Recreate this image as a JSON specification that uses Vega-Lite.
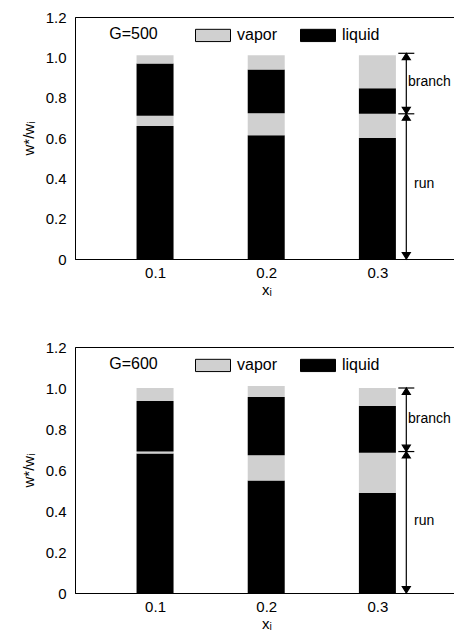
{
  "$schema": "https://vega.github.io/schema/vega-lite/v6.json",
  "padding": {"left": 20, "top": 9, "right": 0, "bottom": 0},
  "background": "white",
  "bounds": "flush",
  "spacing": 88,
  "datasets": {
    "bars": [
      {"G": 500, "x": 0.1, "phase": "liquid", "lo": 0, "hi": 0.66},
      {"G": 500, "x": 0.1, "phase": "vapor", "lo": 0.66, "hi": 0.71},
      {"G": 500, "x": 0.1, "phase": "liquid", "lo": 0.71, "hi": 0.97},
      {"G": 500, "x": 0.1, "phase": "vapor", "lo": 0.97, "hi": 1.01},
      {"G": 500, "x": 0.2, "phase": "liquid", "lo": 0, "hi": 0.614},
      {"G": 500, "x": 0.2, "phase": "vapor", "lo": 0.614, "hi": 0.723},
      {"G": 500, "x": 0.2, "phase": "liquid", "lo": 0.723, "hi": 0.94},
      {"G": 500, "x": 0.2, "phase": "vapor", "lo": 0.94, "hi": 1.01},
      {"G": 500, "x": 0.3, "phase": "liquid", "lo": 0, "hi": 0.6},
      {"G": 500, "x": 0.3, "phase": "vapor", "lo": 0.6, "hi": 0.72},
      {"G": 500, "x": 0.3, "phase": "liquid", "lo": 0.72, "hi": 0.847},
      {"G": 500, "x": 0.3, "phase": "vapor", "lo": 0.847, "hi": 1.01},
      {"G": 600, "x": 0.1, "phase": "liquid", "lo": 0, "hi": 0.68},
      {"G": 600, "x": 0.1, "phase": "vapor", "lo": 0.68, "hi": 0.69},
      {"G": 600, "x": 0.1, "phase": "liquid", "lo": 0.69, "hi": 0.936},
      {"G": 600, "x": 0.1, "phase": "vapor", "lo": 0.936, "hi": 1.0},
      {"G": 600, "x": 0.2, "phase": "liquid", "lo": 0, "hi": 0.549},
      {"G": 600, "x": 0.2, "phase": "vapor", "lo": 0.549, "hi": 0.672},
      {"G": 600, "x": 0.2, "phase": "liquid", "lo": 0.672, "hi": 0.956},
      {"G": 600, "x": 0.2, "phase": "vapor", "lo": 0.956, "hi": 1.01},
      {"G": 600, "x": 0.3, "phase": "liquid", "lo": 0, "hi": 0.488},
      {"G": 600, "x": 0.3, "phase": "vapor", "lo": 0.488, "hi": 0.684},
      {"G": 600, "x": 0.3, "phase": "liquid", "lo": 0.684, "hi": 0.912},
      {"G": 600, "x": 0.3, "phase": "vapor", "lo": 0.912, "hi": 1.0}
    ],
    "spans": [
      {"G": 500, "x": 0.326, "lo": 0, "hi": 0.72},
      {"G": 500, "x": 0.326, "lo": 0.72, "hi": 1.02},
      {"G": 600, "x": 0.326, "lo": 0, "hi": 0.69},
      {"G": 600, "x": 0.326, "lo": 0.69, "hi": 1.0}
    ],
    "heads": [
      {"G": 500, "x": 0.326, "y": 1.02, "kind": "cap"},
      {"G": 500, "x": 0.326, "y": 1.02, "kind": "up"},
      {"G": 500, "x": 0.326, "y": 0.72, "kind": "cap"},
      {"G": 500, "x": 0.326, "y": 0.72, "kind": "down"},
      {"G": 500, "x": 0.326, "y": 0.72, "kind": "up"},
      {"G": 500, "x": 0.326, "y": 0, "kind": "down"},
      {"G": 600, "x": 0.326, "y": 1.0, "kind": "cap"},
      {"G": 600, "x": 0.326, "y": 1.0, "kind": "up"},
      {"G": 600, "x": 0.326, "y": 0.69, "kind": "cap"},
      {"G": 600, "x": 0.326, "y": 0.69, "kind": "down"},
      {"G": 600, "x": 0.326, "y": 0.69, "kind": "up"},
      {"G": 600, "x": 0.326, "y": 0, "kind": "down"}
    ],
    "notes": [
      {"G": 500, "x": 0.3275, "y": 0.88, "text": "branch"},
      {"G": 500, "x": 0.333, "y": 0.37, "text": "run"},
      {"G": 600, "x": 0.3275, "y": 0.847, "text": "branch"},
      {"G": 600, "x": 0.333, "y": 0.35, "text": "run"}
    ],
    "titles": [
      {"G": 500, "x": 0.0588, "y": 1.115, "text": "G=500"},
      {"G": 600, "x": 0.0588, "y": 1.115, "text": "G=600"}
    ]
  },
  "vconcat": [
    {
      "width": 383,
      "height": 242,
      "layer": [
        {
          "data": {"name": "bars"},
          "transform": [{"filter": "datum.G == 500"}],
          "mark": {"type": "bar", "size": 37, "orient": "vertical"},
          "encoding": {
            "x": {"field": "x", "type": "quantitative", "scale": {"domain": [0.0325, 0.368], "nice": false, "zero": false},
                  "axis": {"values": [0.1, 0.2, 0.3], "format": ".1f", "title": "xᵢ"}},
            "y": {"field": "lo", "type": "quantitative", "scale": {"domain": [0, 1.2], "nice": false},
                  "axis": {"values": [0, 0.2, 0.4, 0.6, 0.8, 1.0, 1.2], "labelExpr": "datum.value == 0 ? '0' : format(datum.value, '.1f')", "title": "w*/wᵢ"}},
            "y2": {"field": "hi"},
            "color": {"field": "phase", "type": "nominal", "scale": {"domain": ["vapor", "liquid"], "range": ["#d0d0d0", "#000000"]},
                      "legend": {"orient": "none", "legendX": 120, "legendY": 0, "direction": "horizontal", "title": null,
                                 "encode": {"symbols": {"update": {"stroke": {"value": "black"}, "strokeWidth": {"value": 1}}}}}}
          }
        },
        {
          "data": {"name": "spans"},
          "transform": [{"filter": "datum.G == 500"}],
          "mark": {"type": "rule", "color": "black", "strokeWidth": 1.2},
          "encoding": {"x": {"field": "x", "type": "quantitative"}, "y": {"field": "lo", "type": "quantitative"}, "y2": {"field": "hi"}}
        },
        {
          "data": {"name": "heads"},
          "transform": [{"filter": "datum.G == 500"}],
          "mark": {"type": "point", "filled": true, "fill": "black", "stroke": "black", "strokeWidth": 1.2, "opacity": 1, "size": 64},
          "encoding": {
            "x": {"field": "x", "type": "quantitative"},
            "y": {"field": "y", "type": "quantitative"},
            "shape": {"field": "kind", "type": "nominal", "legend": null,
                      "scale": {"domain": ["cap", "up", "down"], "range": ["M-2,0H2", "M0,0L-1,1.6L1,1.6Z", "M0,0L-1,-1.6L1,-1.6Z"]}}
          }
        },
        {
          "data": {"name": "notes"},
          "transform": [{"filter": "datum.G == 500"}],
          "mark": {"type": "text", "align": "left", "baseline": "middle", "fontSize": 14, "font": "Liberation Sans", "color": "black"},
          "encoding": {"x": {"field": "x", "type": "quantitative"}, "y": {"field": "y", "type": "quantitative"}, "text": {"field": "text"}}
        },
        {
          "data": {"name": "titles"},
          "transform": [{"filter": "datum.G == 500"}],
          "mark": {"type": "text", "align": "left", "baseline": "middle", "fontSize": 16, "font": "Liberation Sans", "color": "black"},
          "encoding": {"x": {"field": "x", "type": "quantitative"}, "y": {"field": "y", "type": "quantitative"}, "text": {"field": "text"}}
        }
      ]
    },
    {
      "width": 383,
      "height": 246,
      "layer": [
        {
          "data": {"name": "bars"},
          "transform": [{"filter": "datum.G == 600"}],
          "mark": {"type": "bar", "size": 37, "orient": "vertical"},
          "encoding": {
            "x": {"field": "x", "type": "quantitative", "scale": {"domain": [0.0325, 0.368], "nice": false, "zero": false},
                  "axis": {"values": [0.1, 0.2, 0.3], "format": ".1f", "title": "xᵢ"}},
            "y": {"field": "lo", "type": "quantitative", "scale": {"domain": [0, 1.2], "nice": false},
                  "axis": {"values": [0, 0.2, 0.4, 0.6, 0.8, 1.0, 1.2], "labelExpr": "datum.value == 0 ? '0' : format(datum.value, '.1f')", "title": "w*/wᵢ"}},
            "y2": {"field": "hi"},
            "color": {"field": "phase", "type": "nominal", "scale": {"domain": ["vapor", "liquid"], "range": ["#d0d0d0", "#000000"]},
                      "legend": {"orient": "none", "legendX": 120, "legendY": 0, "direction": "horizontal", "title": null,
                                 "encode": {"symbols": {"update": {"stroke": {"value": "black"}, "strokeWidth": {"value": 1}}}}}}
          }
        },
        {
          "data": {"name": "spans"},
          "transform": [{"filter": "datum.G == 600"}],
          "mark": {"type": "rule", "color": "black", "strokeWidth": 1.2},
          "encoding": {"x": {"field": "x", "type": "quantitative"}, "y": {"field": "lo", "type": "quantitative"}, "y2": {"field": "hi"}}
        },
        {
          "data": {"name": "heads"},
          "transform": [{"filter": "datum.G == 600"}],
          "mark": {"type": "point", "filled": true, "fill": "black", "stroke": "black", "strokeWidth": 1.2, "opacity": 1, "size": 64},
          "encoding": {
            "x": {"field": "x", "type": "quantitative"},
            "y": {"field": "y", "type": "quantitative"},
            "shape": {"field": "kind", "type": "nominal", "legend": null,
                      "scale": {"domain": ["cap", "up", "down"], "range": ["M-2,0H2", "M0,0L-1,1.6L1,1.6Z", "M0,0L-1,-1.6L1,-1.6Z"]}}
          }
        },
        {
          "data": {"name": "notes"},
          "transform": [{"filter": "datum.G == 600"}],
          "mark": {"type": "text", "align": "left", "baseline": "middle", "fontSize": 14, "font": "Liberation Sans", "color": "black"},
          "encoding": {"x": {"field": "x", "type": "quantitative"}, "y": {"field": "y", "type": "quantitative"}, "text": {"field": "text"}}
        },
        {
          "data": {"name": "titles"},
          "transform": [{"filter": "datum.G == 600"}],
          "mark": {"type": "text", "align": "left", "baseline": "middle", "fontSize": 16, "font": "Liberation Sans", "color": "black"},
          "encoding": {"x": {"field": "x", "type": "quantitative"}, "y": {"field": "y", "type": "quantitative"}, "text": {"field": "text"}}
        }
      ]
    }
  ],
  "resolve": {"scale": {"color": "independent", "x": "independent", "y": "independent"}, "legend": {"color": "independent"}},
  "config": {
    "view": {"stroke": "black", "strokeWidth": 1},
    "font": "Liberation Sans",
    "axis": {
      "grid": false, "ticks": false, "domainColor": "black", "domainWidth": 1,
      "labelFont": "Liberation Sans", "labelFontSize": 15, "labelColor": "black", "labelPadding": 9,
      "titleFont": "Liberation Sans", "titleFontSize": 15, "titleFontWeight": "normal", "titleColor": "black"
    },
    "axisX": {"titlePadding": 2, "labelPadding": 6},
    "axisY": {"titlePadding": 9},
    "legend": {
      "symbolType": "M-1,-0.35H1V0.35H-1Z", "symbolSize": 1225, "symbolStrokeColor": "black", "symbolStrokeWidth": 1,
      "symbolOpacity": 1, "labelFont": "Liberation Sans", "labelFontSize": 16, "labelColor": "black", "labelOffset": 6,
      "columnPadding": 20, "padding": 0
    }
  }
}
